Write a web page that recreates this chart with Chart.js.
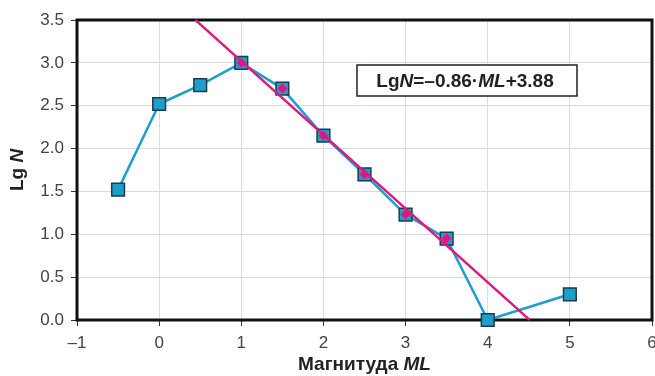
<!DOCTYPE html>
<html>
<head>
<meta charset="utf-8">
<script src="https://cdn.jsdelivr.net/npm/chart.js@4"></script>
<style>
  html, body { margin: 0; padding: 0; background: #fff; }
  #wrap { width: 655px; height: 376px; }
</style>
</head>
<body>
<div id="wrap"><canvas id="chart" width="655" height="376"></canvas></div>
<script>
// magnitude classes and log of event counts
const magnitudes = [-0.5, 0, 0.5, 1, 1.5, 2, 2.5, 3, 3.5, 4, 5];
const lgCounts = [1.52, 2.52, 2.74, 3.0, 2.7, 2.15, 1.7, 1.23, 0.95, 0.0, 0.3];
// points used for the fit (highlighted in pink)
const fitMagnitudes = [1, 1.5, 2, 2.5, 3, 3.5];
const fitCounts = [3.0, 2.7, 2.15, 1.7, 1.23, 0.95];
// fit line LgN = -0.86*ML + 3.88
const fitSlope = -0.86;
const fitIntercept = 3.88;
const fitRange = [0.44, 4.51];
const xTicks = [-1, 0, 1, 2, 3, 4, 5, 6];
const yTicks = [0, 0.5, 1, 1.5, 2, 2.5, 3, 3.5];

const FONT = '"Liberation Sans", Arial, sans-serif';
const BLUE = '#1b9fcc';
const PINK = '#e0177f';

// draw text made of runs with different font styles
function drawRuns(ctx, runs, x, y, size) {
    let total = 0;
    runs.forEach(r => {
        ctx.font = (r.italic ? 'italic ' : '') + 'bold ' + size + 'px ' + FONT;
        r.w = ctx.measureText(r.t).width;
        total += r.w;
    });
    let cx = x - total / 2;
    ctx.textAlign = 'left';
    ctx.textBaseline = 'middle';
    runs.forEach(r => {
        ctx.font = (r.italic ? 'italic ' : '') + 'bold ' + size + 'px ' + FONT;
        ctx.fillText(r.t, cx, y);
        cx += r.w;
    });
}

const decorPlugin = {
    id: 'decor',
    beforeDatasetsDraw(chart) {
        const ctx = chart.ctx;
        const a = chart.chartArea;
        ctx.save();
        ctx.strokeStyle = '#111';
        ctx.lineWidth = 3;
        ctx.strokeRect(a.left, a.top, a.right - a.left, a.bottom - a.top);
        ctx.restore();
    },
    afterDraw(chart) {
        const ctx = chart.ctx;
        const a = chart.chartArea;
        const xs = chart.scales.x;
        ctx.save();
        // x tick labels (drawn here so the last one may run off the edge)
        ctx.fillStyle = '#444';
        ctx.font = '17px ' + FONT;
        ctx.textAlign = 'center';
        ctx.textBaseline = 'middle';
        xTicks.forEach(v => {
            ctx.fillText(String(v).replace('-', '–'), xs.getPixelForValue(v), 343);
        });
        ctx.fillStyle = '#222';
        // x axis title
        drawRuns(ctx, [{ t: 'Магнитуда ' }, { t: 'ML', italic: true }],
            (a.left + a.right) / 2, 365, 19);
        // y axis title
        ctx.translate(18, (a.top + a.bottom) / 2);
        ctx.rotate(-Math.PI / 2);
        drawRuns(ctx, [{ t: 'Lg ' }, { t: 'N', italic: true }], 0, 0, 19);
        ctx.restore();

        // equation box
        ctx.save();
        const bx = 357, by = 65, bw = 220, bh = 31;
        ctx.fillStyle = '#fff';
        ctx.fillRect(bx, by, bw, bh);
        ctx.strokeStyle = '#222';
        ctx.lineWidth = 1.5;
        ctx.strokeRect(bx, by, bw, bh);
        ctx.fillStyle = '#222';
        drawRuns(ctx, [
            { t: 'Lg' }, { t: 'N', italic: true }, { t: '=–0.86·' },
            { t: 'ML', italic: true }, { t: '+3.88' }
        ], bx + bw / 2 - 2, by + bh / 2 + 1, 19);
        ctx.restore();
    }
};

const ctx = document.getElementById('chart').getContext('2d');
new Chart(ctx, {
    type: 'scatter',
    data: {
        datasets: [
            {
                label: 'fit',
                data: fitRange.map(x => ({ x: x, y: fitSlope * x + fitIntercept })),
                showLine: true,
                borderColor: PINK,
                borderWidth: 2.5,
                pointRadius: 0,
                order: 0
            },
            {
                label: 'fit points',
                data: fitMagnitudes.map((m, i) => ({ x: m, y: fitCounts[i] })),
                showLine: false,
                pointStyle: 'rectRot',
                pointRadius: 5,
                backgroundColor: PINK,
                borderColor: PINK,
                borderWidth: 0,
                order: 1
            },
            {
                label: 'Lg N',
                data: magnitudes.map((m, i) => ({ x: m, y: lgCounts[i] })),
                showLine: true,
                borderColor: BLUE,
                borderWidth: 2.5,
                pointStyle: 'rect',
                pointRadius: 9,
                pointBackgroundColor: BLUE,
                pointBorderColor: '#24394a',
                pointBorderWidth: 1.5,
                order: 2
            }
        ]
    },
    options: {
        responsive: false,
        animation: false,
        clip: false,
        layout: { autoPadding: false, padding: { left: 0, right: 3, top: 20, bottom: 0 } },
        plugins: {
            legend: { display: false },
            tooltip: { enabled: false }
        },
        scales: {
            x: {
                type: 'linear',
                min: -1,
                max: 6,
                afterBuildTicks: s => { s.ticks = xTicks.map(v => ({ value: v })); },
                afterFit: s => { s.height = 56; },
                ticks: { display: false },
                grid: { color: '#dcdcdc', lineWidth: 1, tickLength: 6, tickColor: '#333' },
                border: { display: false }
            },
            y: {
                min: 0,
                max: 3.5,
                afterBuildTicks: s => { s.ticks = yTicks.map(v => ({ value: v })); },
                afterFit: s => { s.width = 77; },
                ticks: {
                    color: '#444',
                    font: { family: FONT, size: 17 },
                    padding: 7,
                    callback: v => v.toFixed(1)
                },
                grid: { color: '#dcdcdc', lineWidth: 1, tickLength: 6, tickColor: '#333' },
                border: { display: false }
            }
        }
    },
    plugins: [decorPlugin]
});
</script>
</body>
</html>
